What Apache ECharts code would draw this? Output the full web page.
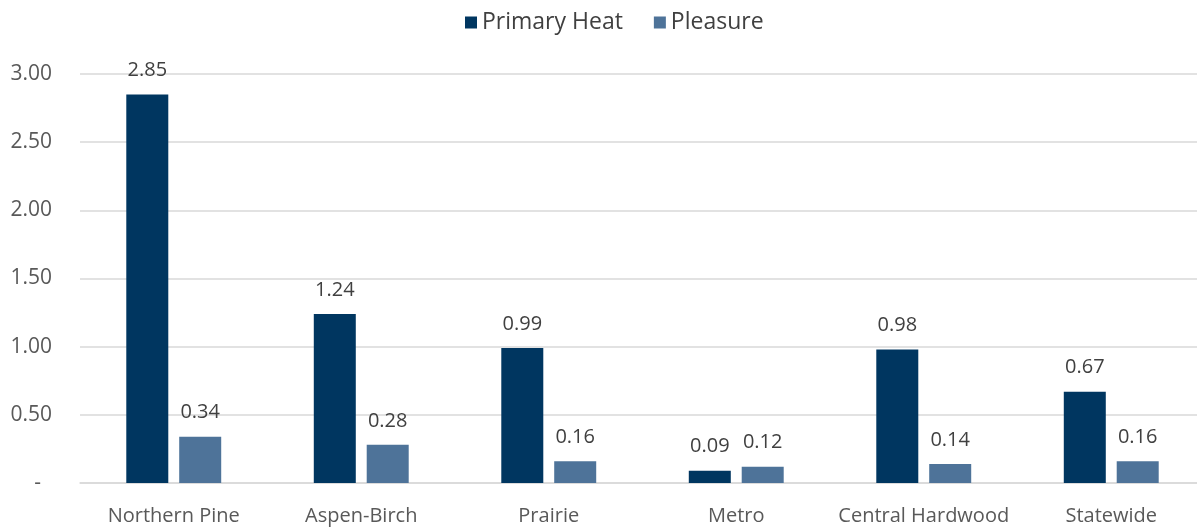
<!DOCTYPE html>
<html>
<head>
<meta charset="utf-8">
<script src="https://cdn.jsdelivr.net/npm/echarts@6/dist/echarts.min.js"></script>
<style>
  html, body { margin: 0; padding: 0; background: #fff; overflow: hidden; }
  #chart { width: 1205px; height: 529px; }
</style>
</head>
<body>
<div id="chart"></div>
<script>
// regions and values
const regions = ['Northern Pine', 'Aspen-Birch', 'Prairie', 'Metro', 'Central Hardwood', 'Statewide']
const primaryHeat = [2.85, 1.24, 0.99, 0.09, 0.98, 0.67]
const pleasure = [0.34, 0.28, 0.16, 0.12, 0.14, 0.16]

const chart = echarts.init(document.getElementById('chart'))
const font = '"Open Sans", "Liberation Sans", sans-serif'

const label = {
  show: true,
  position: 'top',
  distance: 14,
  color: '#404040',
  fontFamily: font,
  fontSize: 20,
  formatter: p => p.value.toFixed(2)
}

const option = {
  animation: false,
  textStyle: { fontFamily: font },
  legend: {
    top: 6,
    left: 460,
    itemWidth: 12,
    itemHeight: 12,
    itemGap: 31,
    icon: 'rect',
    textStyle: { fontSize: 23, color: '#404040', fontFamily: font },
    data: ['Primary Heat', 'Pleasure']
  },
  // plot runs a little past the right edge, like the original
  grid: { left: 80, right: 0, top: 74, bottom: 46, containLabel: false },
  xAxis: {
    type: 'category',
    data: regions,
    axisLine: { lineStyle: { color: '#d9d9d9', width: 1.5 } },
    axisTick: { show: false },
    axisLabel: { color: '#595959', fontSize: 20, margin: 23, interval: 0, fontFamily: font }
  },
  yAxis: {
    type: 'value',
    min: 0,
    max: 3,
    interval: 0.5,
    axisLine: { show: false },
    axisTick: { show: false },
    splitLine: { lineStyle: { color: '#d9d9d9', width: 1.5 } },
    axisLabel: {
      color: '#595959',
      fontSize: 21,
      margin: 28,
      fontFamily: font,
      formatter: v => v === 0 ? '-  ' : v.toFixed(2)
    }
  },
  series: [
    {
      name: 'Primary Heat',
      type: 'bar',
      data: primaryHeat,
      barWidth: '22.4%',
      barGap: '26%',
      itemStyle: { color: '#003660' },
      label: label
    },
    {
      name: 'Pleasure',
      type: 'bar',
      data: pleasure,
      barWidth: '22.4%',
      itemStyle: { color: '#4e7399' },
      label: label
    }
  ]
}

chart.setOption(option)
</script>
</body>
</html>
